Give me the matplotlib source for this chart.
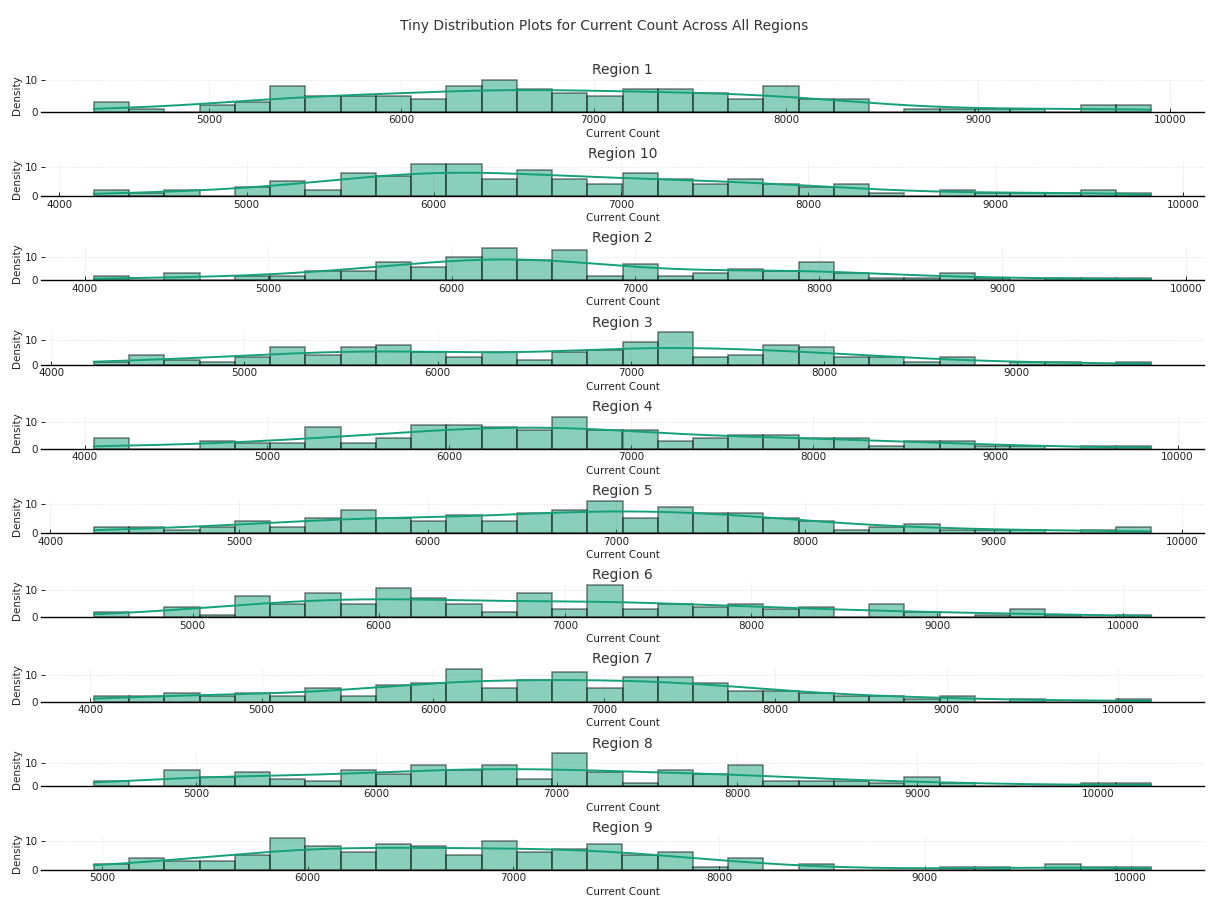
import numpy as np
import matplotlib
matplotlib.use("Agg")
import matplotlib.pyplot as plt
from matplotlib.ticker import MultipleLocator

# Panels in the order they are laid out (sorted region names)
regions = ["Region 1", "Region 10", "Region 2", "Region 3", "Region 4",
           "Region 5", "Region 6", "Region 7", "Region 8", "Region 9"]

# Smallest and largest "Current Count" observed per region
range_lo = [4400, 4185, 4050, 4220, 4050, 4230, 4470, 4020, 4435, 4960]
range_hi = [9900, 9830, 9810, 9695, 9855, 9835, 10150, 10195, 10295, 10100]

# Number of observations falling into each of 30 equal bins per region
counts_r1 = [3, 1, 0, 2, 3, 8, 5, 5, 5, 4, 8, 10, 7, 6, 5, 7, 7, 6, 4, 8, 4, 4, 0, 1, 1, 1, 1, 0, 2, 2]
counts_r10 = [2, 1, 2, 0, 3, 5, 2, 8, 7, 11, 11, 6, 9, 6, 4, 8, 6, 4, 6, 4, 3, 4, 1, 0, 2, 1, 1, 1, 2, 1]
counts_r2 = [2, 0, 3, 0, 2, 2, 4, 4, 8, 6, 10, 14, 9, 13, 2, 7, 2, 3, 5, 4, 8, 3, 1, 1, 3, 1, 0, 1, 1, 1]
counts_r3 = [1, 4, 2, 1, 3, 7, 4, 7, 8, 5, 3, 5, 2, 5, 6, 9, 13, 3, 4, 8, 7, 3, 3, 1, 3, 0, 1, 1, 0, 1]
counts_r4 = [4, 0, 0, 3, 2, 2, 8, 2, 4, 9, 9, 8, 7, 12, 7, 7, 3, 4, 5, 5, 4, 4, 1, 3, 3, 1, 1, 0, 1, 1]
counts_r5 = [2, 2, 1, 2, 4, 2, 5, 8, 5, 4, 6, 4, 7, 8, 11, 5, 9, 7, 7, 5, 4, 1, 2, 3, 1, 1, 1, 0, 1, 2]
counts_r6 = [2, 0, 4, 1, 8, 5, 9, 5, 11, 7, 5, 2, 9, 3, 12, 3, 5, 4, 5, 3, 4, 0, 5, 2, 0, 1, 3, 1, 0, 1]
counts_r7 = [2, 2, 3, 2, 3, 2, 5, 2, 6, 7, 12, 5, 8, 11, 5, 9, 9, 7, 4, 4, 3, 2, 2, 1, 2, 0, 1, 0, 0, 1]
counts_r8 = [2, 0, 7, 4, 6, 3, 2, 7, 5, 9, 7, 9, 3, 14, 6, 1, 7, 5, 9, 2, 2, 2, 1, 4, 1, 0, 0, 0, 1, 1]
counts_r9 = [2, 4, 3, 3, 5, 11, 8, 6, 9, 8, 5, 10, 6, 7, 9, 5, 6, 1, 4, 0, 2, 0, 0, 0, 1, 1, 0, 2, 1, 1]

all_counts = [counts_r1, counts_r10, counts_r2, counts_r3, counts_r4,
              counts_r5, counts_r6, counts_r7, counts_r8, counts_r9]

BASE = "#14a078"
plt.rcParams["font.family"] = ["DejaVu Sans"]

fig, axes = plt.subplots(len(regions), 1, figsize=(12.09, 8.97), dpi=100)
fig.subplots_adjust(left=41 / 1209, right=1204 / 1209,
                    top=1 - 78 / 897, bottom=1 - 870 / 897, hspace=1.48)


def kde_curve(centers, weights, lo, hi, bin_w):
    """Gaussian KDE (Scott bandwidth) scaled to histogram counts."""
    w = np.asarray(weights, float)
    n = w.sum()
    mean = np.sum(w * centers) / n
    sd = np.sqrt(np.sum(w * (centers - mean) ** 2) / (n - 1))
    bw = sd * n ** (-1 / 5)
    xs = np.linspace(lo, hi, 300)
    dens = np.zeros_like(xs)
    for c, k in zip(centers, w):
        if k:
            dens += k * np.exp(-0.5 * ((xs - c) / bw) ** 2)
    dens /= n * bw * np.sqrt(2 * np.pi)
    return xs, dens * n * bin_w


for ax, name, counts, lo, hi in zip(axes, regions, all_counts, range_lo, range_hi):
    edges = np.linspace(lo, hi, len(counts) + 1)
    centers = 0.5 * (edges[:-1] + edges[1:])
    ax.set_axisbelow(True)
    ax.grid(True, color="#dddddd", linestyle=(0, (2, 2)), linewidth=0.5)
    ax.hist(centers, bins=edges, weights=counts, color=BASE, alpha=0.5,
            edgecolor="black", linewidth=1.1)
    xs, ys = kde_curve(centers, counts, lo, hi, edges[1] - edges[0])
    ax.plot(xs, ys, color=BASE, linewidth=1.4)

    ax.set_title(name, fontsize=10, color="#333333", pad=3)
    ax.set_xlabel("Current Count", fontsize=7.5, color="#222222", labelpad=2.5)
    ax.set_ylabel("Density", fontsize=7.5, color="#222222", labelpad=2)
    ax.xaxis.set_major_locator(MultipleLocator(1000))
    ax.yaxis.set_major_locator(MultipleLocator(10))
    ax.tick_params(axis="both", direction="in", length=3, width=0.6,
                   labelsize=7.5, labelcolor="#222222", pad=2.5)
    for side in ("top", "right", "left"):
        ax.spines[side].set_visible(False)
    ax.spines["bottom"].set_linewidth(1.0)
    ax.spines["bottom"].set_color("black")

fig.suptitle("Tiny Distribution Plots for Current Count Across All Regions",
             fontsize=10, color="#333333", y=1 - 19 / 897)

fig.savefig("out.png", dpi=100)
